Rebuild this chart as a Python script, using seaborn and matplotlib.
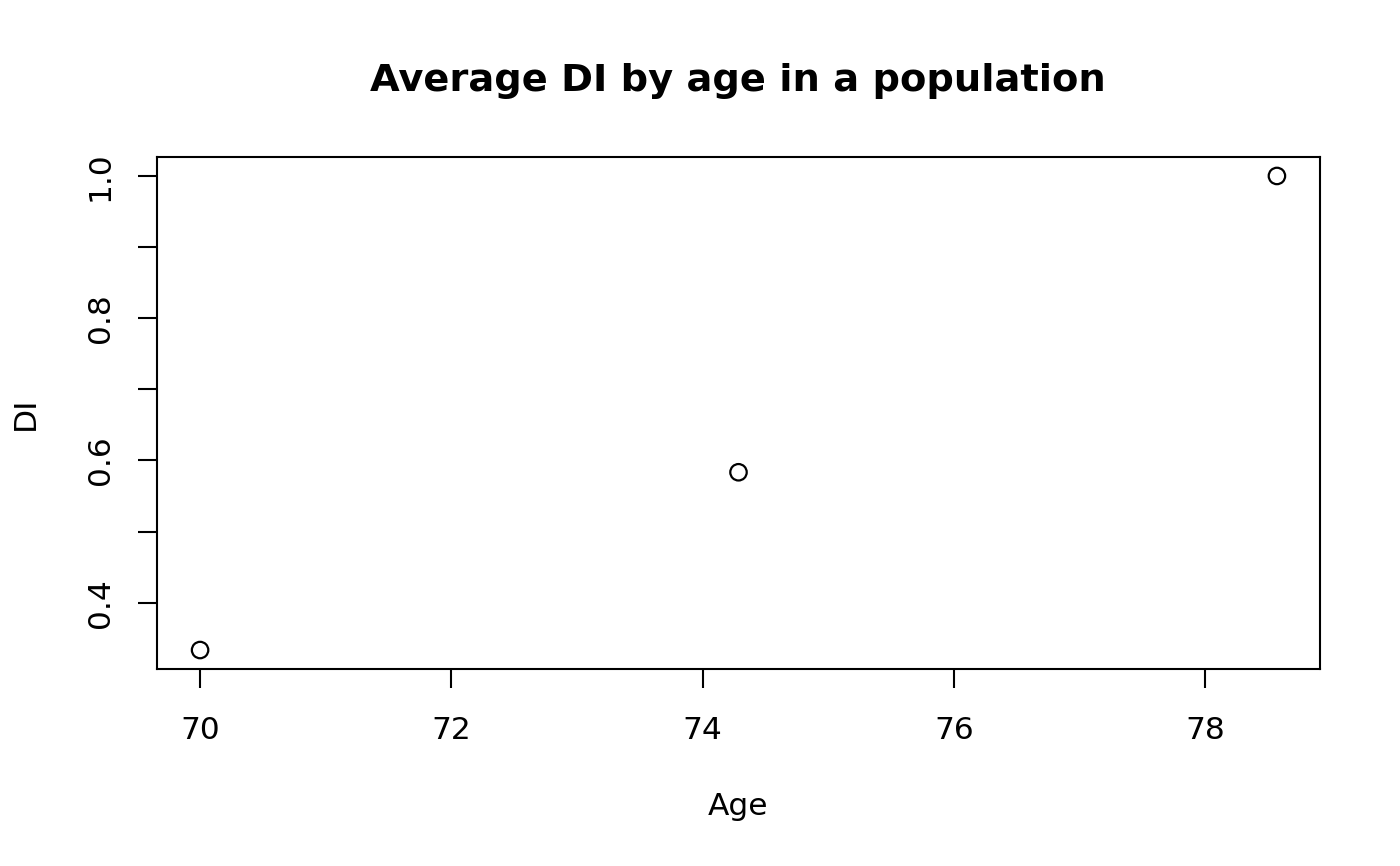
import numpy as np
import pandas as pd
import matplotlib
matplotlib.use("Agg")
import matplotlib.pyplot as plt
import seaborn as sns

# --- Data ---
AGES = [70.0, 74.2857, 78.5714]
DI_MEANS = [0.3333, 0.5833, 1.0]
X_TICKS = [70, 72, 74, 76, 78]
Y_TICKS = [0.4, 0.5, 0.6, 0.7, 0.8, 0.9, 1.0]
Y_TICK_LABELS = ["0.4", "", "0.6", "", "0.8", "", "1.0"]

sns.set_style("white")
plt.rcParams['font.family'] = ['DejaVu Sans']
plt.rcParams['text.color'] = 'black'
plt.rcParams['axes.labelcolor'] = 'black'
plt.rcParams['xtick.color'] = 'black'
plt.rcParams['ytick.color'] = 'black'

df = pd.DataFrame({'Age': AGES, 'DI': DI_MEANS})

fig = plt.figure(figsize=(14, 8.66), dpi=100)
ax = fig.add_axes([157 / 1400, 1 - 669 / 866, (1320 - 157) / 1400, (669 - 157) / 866])

sns.scatterplot(x='Age', y='DI', data=df, ax=ax, s=140, marker='o',
                facecolors='none', edgecolor='black', linewidth=1.6)

# R-style 4% padding on both axes
xr = max(AGES) - min(AGES)
yr = max(DI_MEANS) - min(DI_MEANS)
ax.set_xlim(min(AGES) - 0.04 * xr, max(AGES) + 0.04 * xr)
ax.set_ylim(min(DI_MEANS) - 0.04 * yr, max(DI_MEANS) + 0.04 * yr)

ax.set_xticks(X_TICKS)
ax.set_xticklabels([str(t) for t in X_TICKS])
ax.set_yticks(Y_TICKS)
ax.set_yticklabels(Y_TICK_LABELS, rotation=90, va='center')

ax.tick_params(axis='both', which='both', direction='out', length=13.5, width=1.5,
               color='black', labelcolor='black', labelsize=22.5,
               bottom=True, left=True, top=False, right=False)
ax.tick_params(axis='x', pad=20)
ax.tick_params(axis='y', pad=17)

for side in ['top', 'bottom', 'left', 'right']:
    ax.spines[side].set_visible(True)
    ax.spines[side].set_color('black')
    ax.spines[side].set_linewidth(1.5)

ax.set_xlabel('Age', fontsize=22.5, labelpad=34, color='black')
ax.set_ylabel('DI', fontsize=22.5, labelpad=33, color='black')
ax.grid(False)

fig.text(738 / 1400, 1 - 81 / 866, 'Average DI by age in a population',
         ha='center', va='center', fontsize=27.6, fontweight='bold', color='black')

fig.savefig('out.png', dpi=100, facecolor='white')
